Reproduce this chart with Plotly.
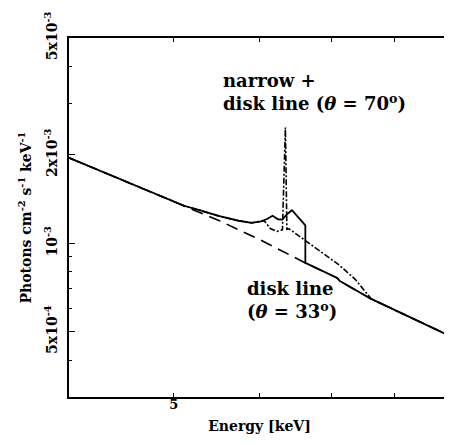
import plotly.graph_objects as go

# Continuum (dashed)
cont_E = [4.0, 5.11, 5.51, 6.02, 6.615, 7.08, 7.12, 7.61, 9.0]
cont_F = [1.955e-3, 1.343e-3, 1.194e-3, 1.024e-3, 8.58e-4, 7.62e-4, 7.44e-4, 6.47e-4, 4.84e-4]

# Continuum + disk line, theta = 33 deg (solid)
d33_E = [4.0, 5.11, 5.28, 5.51, 5.74, 5.90, 6.02, 6.09, 6.17, 6.24, 6.30, 6.36, 6.43,
         6.615, 6.615, 7.08, 7.12, 7.61, 9.0]
d33_F = [1.955e-3, 1.343e-3, 1.297e-3, 1.237e-3, 1.194e-3, 1.175e-3, 1.189e-3, 1.208e-3,
         1.242e-3, 1.208e-3, 1.204e-3, 1.257e-3, 1.297e-3, 1.152e-3, 8.58e-4, 7.62e-4,
         7.44e-4, 6.47e-4, 4.84e-4]

# Continuum + narrow + disk line, theta = 70 deg (dash-dot)
d70_E = [4.0, 5.11, 5.28, 5.51, 5.74, 5.90, 6.06, 6.14, 6.23, 6.30, 6.34, 6.36, 6.39,
         6.61, 6.85, 7.10, 7.36, 7.61, 9.0]
d70_F = [1.955e-3, 1.343e-3, 1.297e-3, 1.237e-3, 1.194e-3, 1.175e-3, 1.194e-3, 1.123e-3,
         1.099e-3, 1.112e-3, 2.48e-3, 1.117e-3, 1.121e-3, 1.024e-3, 9.32e-4, 8.47e-4,
         7.53e-4, 6.47e-4, 4.84e-4]

x_tickvals = [5, 6, 7, 8]
x_ticktext = ["5", "", "", ""]
y_tickvals = [5e-4, 1e-3, 2e-3, 5e-3]
y_ticktext = ["5x10<sup>-4</sup>", "10<sup>-3</sup>", "2x10<sup>-3</sup>", "5x10<sup>-3</sup>"]
y_minor = [4e-4, 6e-4, 7e-4, 8e-4, 9e-4, 3e-3, 4e-3]

FONT = "DejaVu Serif"

fig = go.Figure()
fig.add_trace(go.Scatter(x=cont_E, y=cont_F, mode="lines",
                         line=dict(color="black", width=1.6, dash="12px,7px")))
fig.add_trace(go.Scatter(x=d70_E, y=d70_F, mode="lines",
                         line=dict(color="black", width=1.6, dash="6px,2px,2px,2px")))
fig.add_trace(go.Scatter(x=d33_E, y=d33_F, mode="lines",
                         line=dict(color="black", width=1.8)))

fig.update_layout(
    autosize=False,
    width=444, height=427,
    margin=dict(l=61, r=0, t=30, b=38, pad=0),
    paper_bgcolor="white", plot_bgcolor="white",
    showlegend=False,
    font=dict(family=FONT, color="black", size=13, weight="bold"),
    xaxis=dict(type="log", range=[0.60206, 0.95424],
               tickmode="array", tickvals=x_tickvals, ticktext=x_ticktext,
               ticks="inside", ticklen=4, tickwidth=1.3, tickcolor="black",
               ticklabelstandoff=-5,
               showline=True, linecolor="black", linewidth=1.6, mirror="allticks",
               showgrid=False, zeroline=False,
               tickfont=dict(family=FONT, size=13, weight="bold"),
               title=dict(text="Energy [keV]", font=dict(family=FONT, size=14, weight="bold"),
                          standoff=10)),
    yaxis=dict(type="log", range=[-3.5229, -2.3010],
               tickmode="array", tickvals=y_tickvals, ticktext=y_ticktext,
               ticks="inside", ticklen=6, tickwidth=1.3, tickcolor="black",
               tickangle=-90, ticklabelstandoff=5,
               minor=dict(tickvals=y_minor, ticks="inside", ticklen=3, tickwidth=1.2,
                          tickcolor="black", showgrid=False),
               showline=True, linecolor="black", linewidth=1.6, mirror="allticks",
               showgrid=False, zeroline=False,
               tickfont=dict(family=FONT, size=14, weight="bold"),
               title=dict(text="Photons cm<sup>-2</sup> s<sup>-1</sup> keV<sup>-1</sup>",
                          font=dict(family=FONT, size=14, weight="bold"), standoff=7)),
)

ann_font = dict(family=FONT, size=18, color="black", weight="bold")
fig.add_annotation(text="narrow +<br>disk line (<i>θ</i> = 70<sup>o</sup>)",
                   xref="paper", yref="paper", x=0.3995, y=0.8496,
                   xanchor="left", yanchor="middle", align="left", showarrow=False,
                   font=ann_font)
fig.add_annotation(text="disk line<br>(<i>θ</i> = 33<sup>o</sup>)",
                   xref="paper", yref="paper", x=0.462, y=0.270,
                   xanchor="left", yanchor="middle", align="left", showarrow=False,
                   font=ann_font)

fig.write_html("out.html")
